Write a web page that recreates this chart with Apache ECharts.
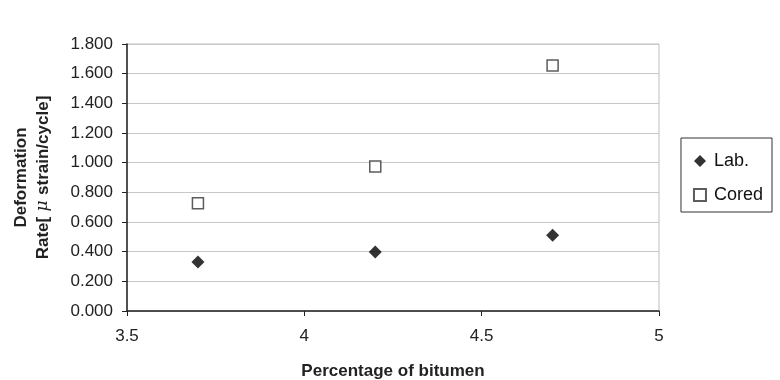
<!DOCTYPE html>
<html>
<head>
<meta charset="UTF-8" />
<script type="text/javascript" src="https://cdn.jsdelivr.net/npm/echarts@6/dist/echarts.min.js"></script>
<title>Deformation rate</title>
<style>
	html, body { margin: 0; padding: 0; background: #fff; }
	#main { width: 780px; height: 380px; }
</style>
</head>
<body>
<div id="main"></div>
<script type="text/javascript">
	// bitumen content (%)
	var bitumen = [3.7, 4.2, 4.7]
	// deformation rate, micro strain per cycle
	var labRate = [0.330, 0.398, 0.510]
	var coredRate = [0.726, 0.975, 1.655]
	var seriesNames = ['Lab.', 'Cored']

	function pairs(xs, ys) {
		var out = []
		for (var i in xs) {
			out.push([xs[i], ys[i]])
		}
		return out
	}

	var font = 'Liberation Sans, Arial, sans-serif'

	var option = {
		animation : false,
		grid : {
			left : 127,
			right : 121,
			top : 44,
			bottom : 69,
			containLabel : false,
			outerBoundsMode : 'none',
			show : true,
			borderColor : '#bdbdbd',
			borderWidth : 1
		},
		legend : {
			orient : 'vertical',
			right : 8,
			top : 138,
			padding : [ 14, 9, 8, 12 ],
			itemGap : 16,
			itemWidth : 12,
			itemHeight : 12,
			borderColor : '#333',
			borderWidth : 1,
			textStyle : {
				fontFamily : font,
				fontSize : 18,
				color : '#111',
				padding : [ 0, 0, 0, 3 ]
			},
			data : [ {
				name : seriesNames[0],
				icon : 'diamond'
			}, {
				name : seriesNames[1],
				icon : 'rect'
			} ]
		},
		xAxis : {
			type : 'value',
			min : 3.5,
			max : 5,
			interval : 0.5,
			name : 'Percentage of bitumen',
			nameLocation : 'middle',
			nameGap : 52,
			nameTextStyle : {
				fontFamily : font,
				fontSize : 17,
				fontWeight : 'bold',
				color : '#222'
			},
			axisLine : {
				lineStyle : {
					color : '#222',
					width : 1.5
				}
			},
			axisTick : {
				show : true,
				length : 5,
				lineStyle : {
					color : '#222'
				}
			},
			axisLabel : {
				fontFamily : font,
				fontSize : 17,
				color : '#222',
				margin : 17
			},
			splitLine : {
				show : false
			}
		},
		yAxis : {
			type : 'value',
			min : 0,
			max : 1.8,
			interval : 0.2,
			name : '{b|Deformation}\n{b|Rate[}{m| μ }{b|strain/cycle]}',
			nameLocation : 'middle',
			nameRotate : 90,
			nameGap : 73,
			nameTextStyle : {
				rich : {
					b : {
						fontFamily : font,
						fontSize : 17,
						fontWeight : 'bold',
						color : '#222',
						lineHeight : 22
					},
					m : {
						fontFamily : 'DejaVu Serif, serif',
						fontSize : 17,
						fontStyle : 'italic',
						color : '#222',
						lineHeight : 22
					}
				}
			},
			axisLine : {
				show : true,
				lineStyle : {
					color : '#222',
					width : 1.5
				}
			},
			axisTick : {
				show : true,
				length : 5,
				lineStyle : {
					color : '#222'
				}
			},
			axisLabel : {
				fontFamily : font,
				fontSize : 17,
				color : '#222',
				margin : 14,
				formatter : function(v) {
					return v.toFixed(3)
				}
			},
			splitLine : {
				lineStyle : {
					color : '#c8c8c8',
					width : 1.2
				}
			}
		},
		series : [ {
			name : seriesNames[0],
			type : 'scatter',
			symbol : 'diamond',
			symbolSize : 13,
			itemStyle : {
				color : '#000'
			},
			data : pairs(bitumen, labRate)
		}, {
			name : seriesNames[1],
			type : 'scatter',
			symbol : 'rect',
			symbolSize : 11,
			itemStyle : {
				color : '#fff',
				borderColor : '#333',
				borderWidth : 1.5
			},
			data : pairs(bitumen, coredRate)
		} ]
	}

	var myChart = echarts.init(document.getElementById('main'))
	myChart.setOption(option)
</script>
</body>
</html>
